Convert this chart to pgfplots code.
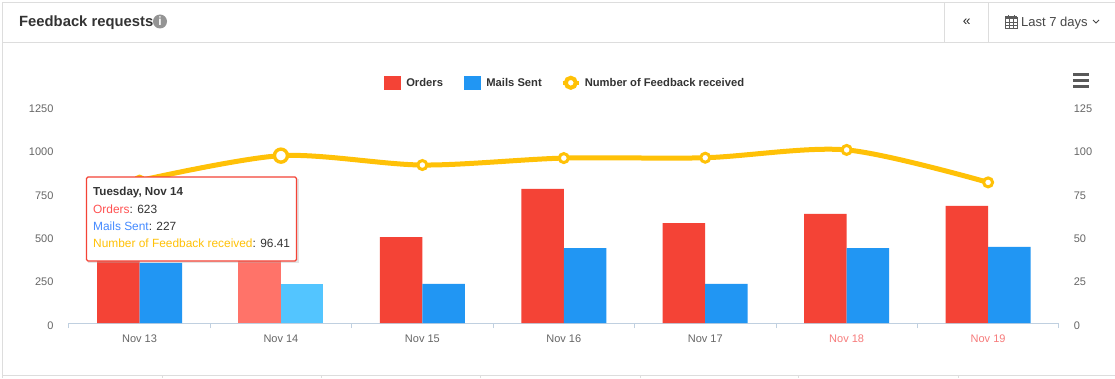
\documentclass[border=0pt]{standalone}
\usepackage{pgfplots}
\pgfplotsset{compat=1.18}
\usepackage{fontspec}
\setmainfont{Liberation Sans}
\definecolor{cRed}{HTML}{F44336}
\definecolor{cBlue}{HTML}{2196F3}
\definecolor{cRedH}{HTML}{FF7369}
\definecolor{cBlueH}{HTML}{53C5FF}
\definecolor{cYel}{HTML}{FFC107}
\definecolor{cTick}{HTML}{666666}
\definecolor{cAxis}{HTML}{C0D0E0}
\definecolor{cCard}{HTML}{DDDDDD}
\definecolor{cText}{HTML}{333333}
\definecolor{cPink}{HTML}{F77B7B}
\pgfplotstableread{
x y
0 500
2 495
3 772
4 576
5 628
6 674
}\ordersdata
\pgfplotstableread{
x y
0 346
2 225
3 432
4 225
5 432
6 438
}\mailsdata
\pgfplotstableread{
x y
0 82
1 96.41
2 91
3 95
4 95.2
5 99.7
6 81
}\feedbackdata
\pgfplotsset{
  base/.style={
    at={(68.8pt,55pt)}, anchor=south west,
    scale only axis, width=990pt, height=217pt,
    xmin=-0.5, xmax=6.5, clip=false,
    ticklabel style={font=\fontsize{11}{13}\selectfont, text=cTick},
    /pgf/number format/assume math mode=true,
    /pgf/number format/1000 sep={},
  },
  swatch/.style={legend image code/.code={\fill[##1] (0pt,-6.5pt) rectangle (16pt,6.5pt);}},
  lineimg/.style={legend image code/.code={
    \path[draw=none,fill=none] (0pt,-6.5pt) rectangle (16pt,6.5pt);
    \draw[overlay,cYel,line width=4.5pt] (0pt,0pt) -- (16pt,0pt);
    \draw[overlay,cYel,line width=4pt,fill=white] (8pt,0pt) circle (5pt);}},
}
\begin{document}
\begin{tikzpicture}
\path[use as bounding box] (0,0) rectangle (1115pt,378pt);
\fill[white] (0,0) rectangle (1115pt,378pt);
\begin{scope}[x=1pt,y=-1pt,yshift=378pt]
  % card frame
  \draw[cCard,line width=1pt] (2.5,378) -- (2.5,3) -- (1115,3);
  \draw[cCard,line width=1pt] (2.5,42.5) -- (1115,42.5);
  \draw[cCard,line width=1pt] (944.5,3) -- (944.5,42.5);
  \draw[cCard,line width=1pt] (988.5,3) -- (988.5,42.5);
  \draw[cCard,line width=1pt] (2.5,375.5) -- (1115,375.5);
  \foreach \xx in {162,321,480,640,798,958}{\draw[cCard,line width=1pt] (\xx.5,375.5) -- (\xx.5,378);}
  \node[anchor=base west,inner sep=0pt,text=cText] at (19,27) {\fontsize{14.8}{18}\selectfont\bfseries Feedback requests};
  \fill[black!42] (160,21.5) circle (7);
  \node[inner sep=0pt,text=white] at (160,21.5) {\fontsize{12}{12}\selectfont\bfseries i};
  \node[text=cText!80!black,inner sep=0pt] at (966.7,22) {\fontsize{14}{14}\selectfont «};
  \draw[cText!80,line width=0.7pt] (1005,17) rectangle (1017,28);
  \fill[cText!80] (1005,16.5) rectangle (1017,19.5);
  \foreach \xx in {1009,1013}{\draw[cText!80,line width=0.5pt] (\xx,17) -- (\xx,28);}
  \foreach \yy in {22,25}{\draw[cText!80,line width=0.5pt] (1005,\yy) -- (1017,\yy);}
  \draw[cText!80,line width=0.9pt] (1008,15) -- (1008,17.5) (1014,15) -- (1014,17.5);
  \node[anchor=base west,inner sep=0pt,text=cText!90] at (1021,26.5) {\fontsize{13}{15}\selectfont Last 7 days};
  \draw[cText!90,line width=0.8pt] (1093,20) -- (1096,23) -- (1099,20);
  \foreach \yy in {75,81,87}{\draw[black!65,line width=3pt] (1073,\yy) -- (1089,\yy);}
\end{scope}
% bars, left axis
\begin{axis}[base, ybar=0pt, bar width=42.5pt,
  ymin=0, ymax=1250, ytick={0,250,500,750,1000,1250},
  axis y line*=left, axis x line*=bottom,
  y axis line style={draw=none},
  x axis line style={draw=cAxis,line width=0.8pt,-},
  xtick={0,...,6}, major x tick style={draw=none},
  xticklabels={Nov 13,Nov 14,Nov 15,Nov 16,Nov 17,\textcolor{cPink}{Nov 18},\textcolor{cPink}{Nov 19}},
  minor xtick={-0.5,0.5,...,6.5},
  minor tick length=5pt,
  minor x tick style={draw=cAxis,line width=0.8pt},
  xticklabel style={yshift=-4pt},
  ytick style={draw=none},
  yticklabel style={xshift=-11.8pt,yshift=-2.5pt},
  xtick pos=bottom,
]
\addplot[fill=cRed,draw=none,bar shift=-21.25pt] table[x=x,y=y] {\ordersdata};
\addplot[fill=cBlue,draw=none,bar shift=21.25pt] table[x=x,y=y] {\mailsdata};
\addplot[fill=cRedH,draw=none,bar shift=-21.25pt] coordinates {(1,623)};
\addplot[fill=cBlueH,draw=none,bar shift=21.25pt] coordinates {(1,227)};
\end{axis}
% line, right axis
\begin{axis}[base,
  ymin=0, ymax=125, ytick={0,25,50,75,100,125},
  axis y line*=right, axis x line=none,
  y axis line style={draw=none}, ytick style={draw=none},
  yticklabel style={anchor=west,xshift=11.5pt,yshift=-2.5pt},
  legend style={at={(0.5012,1.107)},anchor=center,draw=none,fill=none,
    font=\fontsize{11.2}{14}\selectfont\bfseries\color{cText},legend columns=3,
    inner sep=0pt,
    /tikz/every odd column/.append style={column sep=4pt},
    /tikz/every even column/.append style={column sep=19pt}},
  legend cell align=left,
]
\addlegendimage{swatch,cRed}\addlegendentry{Orders}
\addlegendimage{swatch,cBlue}\addlegendentry{Mails Sent}
\addlegendimage{lineimg}\addlegendentry{Number of Feedback received}
\addplot[cYel,line width=5pt,smooth,tension=0.5,
  mark=*,mark options={draw=cYel,fill=white,line width=3pt,solid},mark size=4.5pt] table[x=x,y=y] {\feedbackdata};
\addplot[only marks,mark=*,mark options={draw=cYel,fill=white,line width=3.4pt},mark size=6.5pt] coordinates {(1,96.41)};
\end{axis}
\begin{scope}[x=1pt,y=-1pt,yshift=378pt]
  \fill[black!30,opacity=0.35] (87.5,179) rectangle (298.5,262.5);
  \draw[cRed,fill=white,line width=1.2pt,rounded corners=1.5pt] (86.5,177) rectangle (296.5,261);
  \node[anchor=base west,inner sep=0pt,text=cText] at (93,195) {\fontsize{11.6}{14}\selectfont\bfseries Tuesday, Nov 14};
  \node[anchor=base west,inner sep=0pt,text=cText] at (93,213) {\fontsize{11.9}{14}\selectfont\textcolor[HTML]{FF5252}{Orders}: 623};
  \node[anchor=base west,inner sep=0pt,text=cText] at (93,230) {\fontsize{11.9}{14}\selectfont\textcolor[HTML]{448AFF}{Mails Sent}: 227};
  \node[anchor=base west,inner sep=0pt,text=cText] at (93,247) {\fontsize{11.9}{14}\selectfont\textcolor{cYel}{Number of Feedback received}: 96.41};
\end{scope}
\end{tikzpicture}
\end{document}
